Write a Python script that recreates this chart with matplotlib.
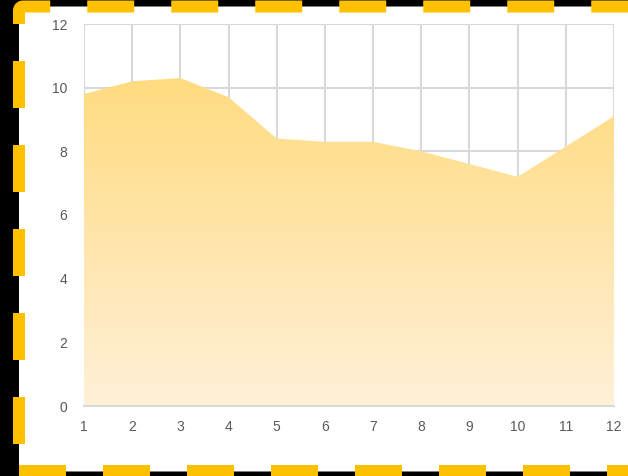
import matplotlib.pyplot as plt
import numpy as np
from matplotlib.patches import FancyBboxPatch
from matplotlib.colors import LinearSegmentedColormap

months = list(range(1, 13))
values = [9.8, 10.2, 10.3, 9.7, 8.4, 8.3, 8.3, 8.0, 7.6, 7.2, 8.15, 9.1]
y_ticks = [0, 2, 4, 6, 8, 10, 12]

plt.rcParams['font.family'] = ['Liberation Sans', 'DejaVu Sans']

fig = plt.figure(figsize=(6.28, 4.76), dpi=100, facecolor='black')

# white card with dashed gold border, drawn in pixel units
bg = fig.add_axes([0, 0, 1, 1], zorder=0)
bg.set_xlim(0, 628)
bg.set_ylim(476, 0)
bg.axis('off')
card = FancyBboxPatch((19, 6.5), 640, 465, boxstyle='round,pad=0,rounding_size=5',
                      facecolor='white', edgecolor='none')
bg.add_patch(card)

lw = 8.64  # 12 px
dash = (47 * 0.72 / lw, 37 * 0.72 / lw)
r = 4
t = np.linspace(np.pi, np.pi * 1.5, 10)
left_x = [19, 19] + list(19 + r + r * np.cos(t)) + [660]
left_y = [471, 6.5 + r] + list(6.5 + r + r * np.sin(t)) + [6.5]
bg.plot(left_x, left_y, color='#FFC000', lw=lw, dash_capstyle='butt',
        solid_joinstyle='miter', linestyle=(57 * 0.72 / lw, dash))
bg.plot([19, 660], [471, 471], color='#FFC000', lw=lw, dash_capstyle='butt',
        linestyle=(0, dash))

ax = fig.add_axes([84 / 628, 70 / 476, 530 / 628, 382 / 476], zorder=1)
ax.patch.set_alpha(0)

# area with vertical gradient fill
poly = ax.fill_between(months, values, 0, facecolor='none', edgecolor='none')
cmap = LinearSegmentedColormap.from_list('grad', ['#FFF0D8', '#FFDB80'])
grad = np.linspace(0, 1, 256).reshape(-1, 1)
im = ax.imshow(grad, cmap=cmap, aspect='auto', origin='lower',
               extent=[1, 12, 0, max(values)], zorder=2)
im.set_clip_path(poly.get_paths()[0], transform=ax.transData)

ax.set_xlim(1, 12)
ax.set_ylim(0, 12)
ax.set_xticks(months)
ax.set_yticks(y_ticks)
ax.grid(True, color='#D9D9D9', linewidth=1.5)
ax.set_axisbelow(True)
for s in ['top', 'right', 'left']:
    ax.spines[s].set_visible(False)
ax.spines['bottom'].set_color('#D9D9D9')
ax.spines['bottom'].set_linewidth(1.5)
ax.spines['bottom'].set_zorder(3)
ax.tick_params(length=0, labelsize=10, colors='#595959')
ax.tick_params(axis='y', pad=12)
ax.tick_params(axis='x', pad=10)

fig.savefig('out.png', dpi=100, facecolor='black')
